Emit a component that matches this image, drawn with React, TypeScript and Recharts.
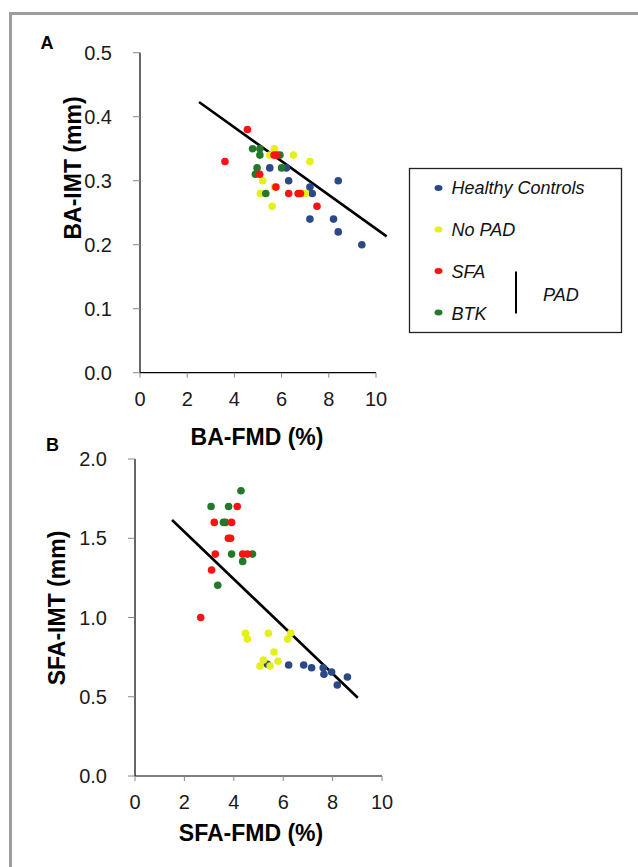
import React from "react";
import {
  ScatterChart,
  Scatter,
  XAxis,
  YAxis,
  ReferenceLine,
} from "recharts";

const FONT = '"Liberation Sans", Arial, sans-serif';

const BLUE = "#2c4886";
const YELLOW = "#e4ef1c";
const RED = "#fb1212";
const GREEN = "#22792a";

const fmdTicks = [0, 2, 4, 6, 8, 10];
const baImtTicks = [0, 0.1, 0.2, 0.3, 0.4, 0.5];
const sfaImtTicks = [0, 0.5, 1.0, 1.5, 2.0];

// panel A: BA-FMD (%) vs BA-IMT (mm)
const baHealthy = [
  { x: 5.5, y: 0.32 },
  { x: 6.2, y: 0.32 },
  { x: 6.3, y: 0.3 },
  { x: 8.4, y: 0.3 },
  { x: 7.2, y: 0.29 },
  { x: 7.3, y: 0.28 },
  { x: 7.2, y: 0.24 },
  { x: 8.2, y: 0.24 },
  { x: 8.4, y: 0.22 },
  { x: 9.4, y: 0.2 },
];
const baNoPad = [
  { x: 5.7, y: 0.35 },
  { x: 5.5, y: 0.34 },
  { x: 6.5, y: 0.34 },
  { x: 7.2, y: 0.33 },
  { x: 5.2, y: 0.3 },
  { x: 5.1, y: 0.28 },
  { x: 5.7, y: 0.29 },
  { x: 5.6, y: 0.26 },
  { x: 7.0, y: 0.28 },
];
const baBtk = [
  { x: 4.77, y: 0.35 },
  { x: 5.08, y: 0.35 },
  { x: 5.08, y: 0.34 },
  { x: 5.93, y: 0.34 },
  { x: 6.0, y: 0.32 },
  { x: 4.96, y: 0.32 },
  { x: 4.89, y: 0.31 },
  { x: 5.33, y: 0.28 },
];
const baSfa = [
  { x: 4.55, y: 0.38 },
  { x: 3.6, y: 0.33 },
  { x: 5.68, y: 0.34 },
  { x: 5.8, y: 0.34 },
  { x: 5.07, y: 0.31 },
  { x: 5.76, y: 0.29 },
  { x: 6.3, y: 0.28 },
  { x: 6.7, y: 0.28 },
  { x: 6.8, y: 0.28 },
  { x: 7.5, y: 0.26 },
];
const baFit = [
  { x: 2.5, y: 0.423 },
  { x: 10.45, y: 0.213 },
];

// panel B: SFA-FMD (%) vs SFA-IMT (mm)
const sfaHealthy = [
  { x: 5.36, y: 0.705 },
  { x: 6.22, y: 0.7 },
  { x: 6.83, y: 0.7 },
  { x: 7.15, y: 0.683 },
  { x: 7.62, y: 0.683 },
  { x: 7.65, y: 0.642 },
  { x: 7.96, y: 0.656 },
  { x: 8.6, y: 0.625 },
  { x: 8.19, y: 0.574 },
];
const sfaNoPad = [
  { x: 4.47, y: 0.9 },
  { x: 4.55, y: 0.864 },
  { x: 5.4, y: 0.9 },
  { x: 6.3, y: 0.9 },
  { x: 6.18, y: 0.864 },
  { x: 5.63, y: 0.782 },
  { x: 5.79, y: 0.724 },
  { x: 5.2, y: 0.732 },
  { x: 5.06, y: 0.694 },
  { x: 5.47, y: 0.694 },
];
const sfaBtk = [
  { x: 4.29, y: 1.8 },
  { x: 3.08, y: 1.7 },
  { x: 3.79, y: 1.7 },
  { x: 3.58, y: 1.6 },
  { x: 3.66, y: 1.6 },
  { x: 3.91, y: 1.4 },
  { x: 4.76, y: 1.4 },
  { x: 4.36, y: 1.354 },
  { x: 3.35, y: 1.203 },
];
const sfaSfa = [
  { x: 4.14, y: 1.7 },
  { x: 3.21, y: 1.6 },
  { x: 3.91, y: 1.6 },
  { x: 3.78, y: 1.5 },
  { x: 3.87, y: 1.5 },
  { x: 3.25, y: 1.4 },
  { x: 4.36, y: 1.4 },
  { x: 4.55, y: 1.4 },
  { x: 3.1, y: 1.3 },
  { x: 2.66, y: 1.0 },
];
const sfaFit = [
  { x: 1.5, y: 1.615 },
  { x: 9.02, y: 0.494 },
];

const legendItems = [
  { name: "Healthy Controls", color: BLUE },
  { name: "No PAD", color: YELLOW },
  { name: "SFA", color: RED },
  { name: "BTK", color: GREEN },
];

const dot = (color: string) => (p: any) =>
  <circle cx={p.cx} cy={p.cy} r={3.8} fill={color} />;

const tickStyle = { fontSize: 20, fill: "#1a1a1a", fontFamily: FONT };

function Panel({
  groups,
  fit,
  yTicks,
  yMax,
  width,
  height,
  margin,
}: {
  groups: { data: { x: number; y: number }[]; color: string }[];
  fit: { x: number; y: number }[];
  yTicks: number[];
  yMax: number;
  width: number;
  height: number;
  margin: { top: number; right: number; bottom: number; left: number };
}) {
  return (
    <ScatterChart width={width} height={height} margin={margin}>
      <XAxis
        type="number"
        dataKey="x"
        domain={[0, 10]}
        ticks={fmdTicks}
        height={60}
        tick={tickStyle}
        tickSize={5}
        tickMargin={14}
        axisLine={{ stroke: "#000", strokeWidth: 1.2 }}
        tickLine={{ stroke: "#888" }}
      />
      <YAxis
        type="number"
        dataKey="y"
        domain={[0, yMax]}
        ticks={yTicks}
        width={50}
        tick={tickStyle}
        tickSize={7}
        tickMargin={21}
        tickFormatter={(v: number) => v.toFixed(1)}
        axisLine={{ stroke: "#000", strokeWidth: 1.2 }}
        tickLine={{ stroke: "#888" }}
      />
      {groups.map((g, i) => (
        <Scatter
          key={i}
          data={g.data}
          fill={g.color}
          shape={dot(g.color)}
          isAnimationActive={false}
        />
      ))}
      <ReferenceLine
        segment={fit}
        stroke="#000"
        strokeWidth={2.6}
        ifOverflow="visible"
      />
    </ScatterChart>
  );
}

export default function App() {
  return (
    <div
      style={{
        position: "fixed",
        left: 0,
        top: 0,
        width: 638,
        height: 867,
        overflow: "hidden",
        background: "#fff",
        fontFamily: FONT,
      }}
    >
      <div
        style={{
          position: "absolute",
          left: 9,
          top: 12,
          width: 700,
          height: 900,
          borderLeft: "3px solid #9d9d9d",
          borderTop: "3px solid #9d9d9d",
        }}
      />
      <div style={{ position: "absolute", left: 0, top: 0 }}>
        <Panel
          groups={[
            { data: baHealthy, color: BLUE },
            { data: baNoPad, color: YELLOW },
            { data: baBtk, color: GREEN },
            { data: baSfa, color: RED },
          ]}
          fit={baFit}
          yTicks={baImtTicks}
          yMax={0.5}
          width={400}
          height={460}
          margin={{ top: 52.7, right: 24, bottom: 27.3, left: 90 }}
        />
      </div>
      <div style={{ position: "absolute", left: 0, top: 440 }}>
        <Panel
          groups={[
            { data: sfaHealthy, color: BLUE },
            { data: sfaNoPad, color: YELLOW },
            { data: sfaBtk, color: GREEN },
            { data: sfaSfa, color: RED },
          ]}
          fit={sfaFit}
          yTicks={sfaImtTicks}
          yMax={2}
          width={400}
          height={427}
          margin={{ top: 19, right: 18, bottom: 31, left: 85 }}
        />
      </div>
      <svg
        width={638}
        height={867}
        style={{ position: "absolute", left: 0, top: 0, pointerEvents: "none" }}
        fontFamily={FONT}
      >
        <text x={47} y={42.5} fontSize={18} fontWeight="bold" textAnchor="middle" dominantBaseline="central">A</text>
        <text x={52.5} y={445} fontSize={18} fontWeight="bold" textAnchor="middle" dominantBaseline="central">B</text>
        <text x={257} y={437} fontSize={23} fontWeight="bold" textAnchor="middle" dominantBaseline="central">BA-FMD (%)</text>
        <text x={251} y={833} fontSize={23} fontWeight="bold" textAnchor="middle" dominantBaseline="central">SFA-FMD (%)</text>
        <text
          x={73}
          y={168}
          fontSize={23}
          fontWeight="bold"
          textAnchor="middle"
          dominantBaseline="central"
          transform="rotate(-90 73 168)"
        >
          BA-IMT (mm)
        </text>
        <text
          x={57}
          y={608}
          fontSize={23}
          fontWeight="bold"
          textAnchor="middle"
          dominantBaseline="central"
          transform="rotate(-90 57 608)"
        >
          SFA-IMT (mm)
        </text>
        <g transform="translate(409.5 168.5)">
          <rect x={0} y={0} width={212} height={164} fill="#fff" stroke="#222" strokeWidth={1.3} />
          {legendItems.map((it, i) => (
            <g key={it.name}>
              <ellipse cx={29} cy={19.5 + i * 41.5} rx={4} ry={3} fill={it.color} />
              <text
                x={42}
                y={19 + i * 42}
                fontSize={18}
                fontStyle="italic"
                fill="#111"
                dominantBaseline="central"
              >
                {it.name}
              </text>
            </g>
          ))}
          <line x1={106.5} y1={103} x2={106.5} y2={145} stroke="#000" strokeWidth={2} />
          <text x={133.5} y={126.5} fontSize={18} fontStyle="italic" fill="#111" dominantBaseline="central">PAD</text>
        </g>
      </svg>
    </div>
  );
}
